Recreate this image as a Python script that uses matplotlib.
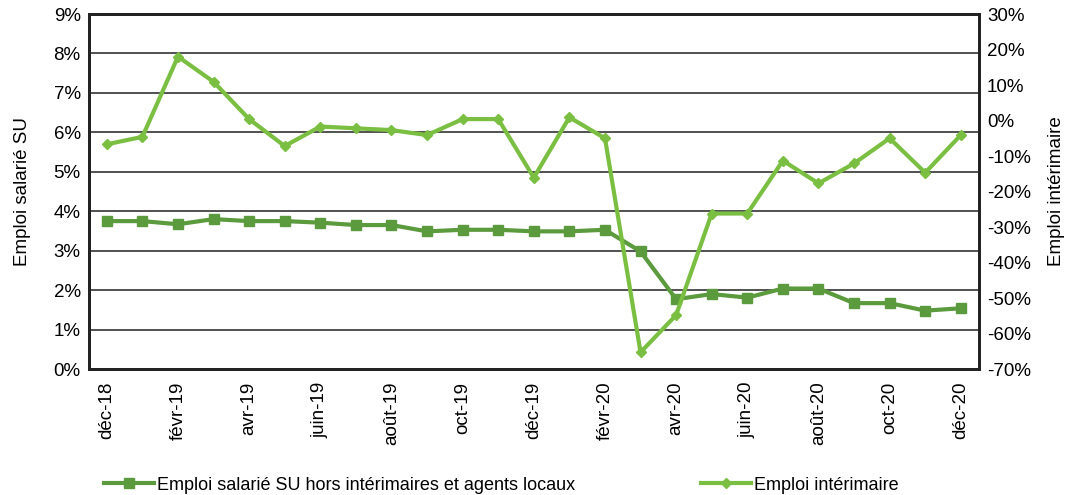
import matplotlib
matplotlib.use("Agg")
import matplotlib.pyplot as plt
import numpy as np

plt.rcParams["font.family"] = ["Liberation Sans", "DejaVu Sans"]

# mois (déc-18 à déc-20)
months = ["déc-18", "janv-19", "févr-19", "mars-19", "avr-19", "mai-19",
          "juin-19", "juil-19", "août-19", "sept-19", "oct-19", "nov-19",
          "déc-19", "janv-20", "févr-20", "mars-20", "avr-20", "mai-20",
          "juin-20", "juil-20", "août-20", "sept-20", "oct-20", "nov-20",
          "déc-20"]

# Emploi salarié SU hors intérimaires et agents locaux (axe gauche, %)
emploi_su = [3.75, 3.75, 3.67, 3.80, 3.75, 3.75, 3.71, 3.65, 3.65, 3.49,
             3.53, 3.53, 3.49, 3.49, 3.53, 2.98, 1.77, 1.90, 1.81, 2.04,
             2.04, 1.67, 1.67, 1.48, 1.54]

# Emploi intérimaire (axe droit, %)
emploi_interim = [-6.7, -4.6, 18.0, 10.9, 0.4, -7.2, -1.7, -2.2, -2.7, -4.1,
                  0.4, 0.4, -16.1, 0.9, -5.0, -65.3, -54.8, -26.2, -26.2,
                  -11.3, -17.7, -12.1, -5.0, -14.7, -4.1]

left_ticks = list(range(0, 10))
right_ticks = list(range(-70, 31, 10))

dark = "#5b9a3d"
light = "#7abf42"

fig = plt.figure(figsize=(10.66, 4.95), dpi=100)
ax = fig.add_axes([0.0835, 0.2545, 0.8345, 0.7172])
ax2 = ax.twinx()

x = np.arange(len(months)) + 0.5

l1, = ax.plot(x, emploi_su, color=dark, lw=3, marker="s", ms=7,
              label="Emploi salarié SU hors intérimaires et agents locaux", zorder=3)
l2, = ax2.plot(x, emploi_interim, color=light, lw=3, marker="D", ms=5.5,
               label="Emploi intérimaire", zorder=3)

ax.set_xlim(0, len(months))
ax.set_ylim(0, 9)
ax2.set_ylim(-70, 30)

ax.set_yticks(left_ticks)
ax.set_yticklabels([f"{t}%" for t in left_ticks])
ax2.set_yticks(right_ticks)
ax2.set_yticklabels([f"{t}%" for t in right_ticks])

ax.set_xticks(x[::2])
ax.set_xticklabels(months[::2], rotation=90)

ax.grid(axis="y", color="#333333", lw=1.2)
ax.set_axisbelow(True)

for a in (ax, ax2):
    for s in a.spines.values():
        s.set_color("#222222")
        s.set_linewidth(2)
    a.tick_params(length=0, labelsize=13.5, pad=6)
ax.tick_params(axis="x", labelsize=13.5, pad=9)

ax.set_ylabel("Emploi salarié SU", fontsize=13.5, labelpad=16)
ax2.set_ylabel("Emploi intérimaire", fontsize=13.5, labelpad=12)

fig.legend(handles=[l1, l2], loc="lower left", bbox_to_anchor=(0.082, -0.03),
           ncol=2, frameon=False, fontsize=13, handlelength=2.8,
           handletextpad=0.15, columnspacing=6.95)

fig.savefig("out.png", dpi=100)
